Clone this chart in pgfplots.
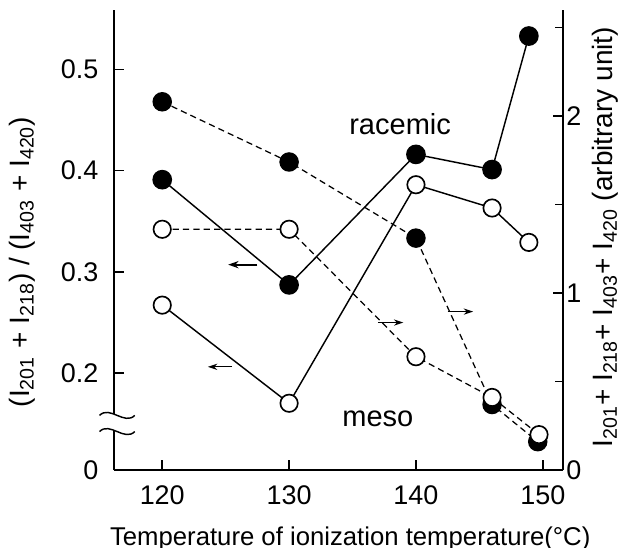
\documentclass[border=0pt]{standalone}
\usepackage{fontspec}
\setmainfont{Liberation Sans}
\usepackage{pgfplots}
\pgfplotsset{compat=1.18}
\usetikzlibrary{arrows.meta}
\begin{document}
\begin{tikzpicture}
\pgfplotsset{
  every axis/.append style={
    scale only axis, width=216.6pt, height=222pt,
    xmin=116.2, xmax=151.6,
    /pgf/number format/assume math mode=true,
    tick label style={font=\fontsize{13}{15}\selectfont},
    label style={font=\fontsize{13.5}{15}\selectfont},
    axis line style={line width=1pt},
    major tick length=5pt, minor tick length=4pt,
    tick style={line width=0.8pt, black},
    tick align=inside,
  },
}
% left axis: intensity ratio (solid lines)
\begin{axis}[
  axis x line*=bottom, axis y line*=left,
  clip=false,
  ymin=0.104, ymax=0.559,
  ytick={0.104,0.2,0.3,0.4,0.5},
  yticklabels={0,0.2,0.3,0.4,0.5},
  yticklabel style={xshift=-4pt},
  xtick={120,130,140,150},
  xticklabel style={yshift=-4pt},
  xlabel={Temperature of ionization temperature(°C)},
  xlabel style={at={(axis description cs:0.526,0)}, anchor=center, yshift=-33pt, font=\fontsize{12.4}{14}\selectfont},
  ylabel={(I\textsubscript{201} + I\textsubscript{218}) / (I\textsubscript{403} + I\textsubscript{420})},
  ylabel style={at={(axis description cs:-0.205,0.452)}, anchor=center, rotate=0},
]
\addplot[black, line width=0.7pt, mark=*, mark size=4.4pt, mark options={fill=black}]
  coordinates {(120,0.391)(130,0.287)(140,0.416)(146,0.401)(148.9,0.533)};
\addplot[black, line width=0.7pt, mark=*, mark size=4.2pt, mark options={fill=white, line width=0.8pt}]
  coordinates {(120,0.267)(130,0.170)(140,0.386)(146,0.363)(148.9,0.329)};
\draw[-{Stealth[length=5pt,width=3.5pt]}, line width=0.9pt] (axis cs:127.5,0.307) -- (axis cs:125.2,0.307);
\draw[-{Stealth[length=4.5pt,width=3pt]}, line width=0.6pt] (axis cs:125.5,0.206) -- (axis cs:123.6,0.206);
\node[font=\fontsize{14}{16}\selectfont] at (axis cs:138.75,0.4455) {racemic};
\node[font=\fontsize{14}{16}\selectfont] at (axis cs:137.0,0.155) {meso};
% axis break
\fill[white] ([xshift=-7pt]axis cs:116.2,0.158) .. controls +(5pt,5pt) and +(-5pt,-5pt) .. ++(17pt,0pt)
  -- ++(0pt,-8pt) .. controls +(-5pt,-5pt) and +(5pt,5pt) .. ++(-17pt,0pt) -- cycle;
\draw[line width=0.7pt] ([xshift=-7pt]axis cs:116.2,0.158) .. controls +(5pt,5pt) and +(-5pt,-5pt) .. ++(17pt,0pt);
\draw[line width=0.7pt] ([xshift=-7pt]axis cs:116.2,0.142) .. controls +(5pt,5pt) and +(-5pt,-5pt) .. ++(17pt,0pt);
\end{axis}
% right axis: total intensity (dashed lines)
\begin{axis}[
  axis y line*=right, axis x line=none,
  ymin=0, ymax=2.6,
  ytick={0,1,2}, minor ytick={0.5,1.5,2.5},
  yticklabel style={xshift=-2pt},
  ylabel={I\textsubscript{201}+ I\textsubscript{218}+ I\textsubscript{403}+ I\textsubscript{420} (arbitrary unit)},
  ylabel style={at={(axis description cs:1.0935,0.506)}, anchor=center, rotate=0},
]
\addplot[black, line width=0.6pt, dash pattern=on 3pt off 2pt, mark=*, mark size=4.4pt, mark options={solid, fill=black}]
  coordinates {(120,2.08)(130,1.74)(140,1.31)(146,0.37)(149.6,0.16)};
\addplot[black, line width=0.6pt, dash pattern=on 3pt off 2pt, mark=*, mark size=4.2pt, mark options={solid, fill=white, line width=0.8pt}]
  coordinates {(120,1.36)(130,1.36)(140,0.64)(146,0.41)(149.7,0.20)};
\draw[-{Stealth[length=4.5pt,width=3pt]}, line width=0.6pt] (axis cs:137.0,0.833) -- (axis cs:139.0,0.833);
\draw[-{Stealth[length=4.5pt,width=3pt]}, line width=0.6pt] (axis cs:142.5,0.895) -- (axis cs:144.5,0.895);
\end{axis}
\pgfresetboundingbox
\useasboundingbox (-55pt,-37.6pt) rectangle (245pt,226.7pt);
\end{tikzpicture}
\end{document}
